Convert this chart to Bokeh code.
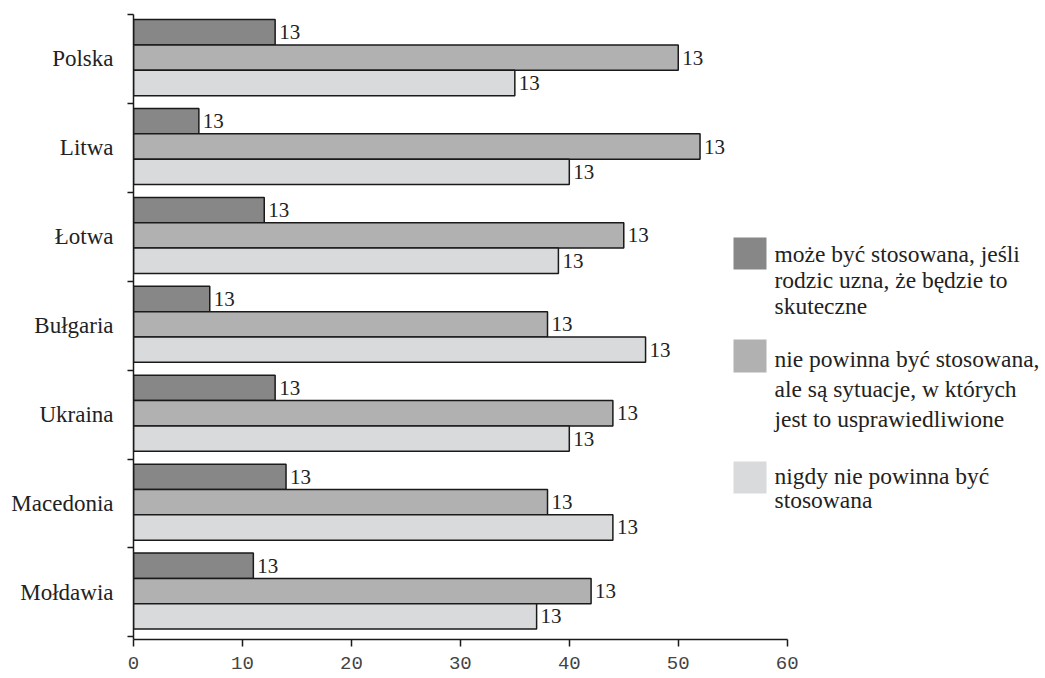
from bokeh.plotting import figure
from bokeh.models import Range1d, FixedTicker, Label, BoxAnnotation, ColumnDataSource
from bokeh.embed import file_html
from bokeh.resources import INLINE
from bokeh.core.properties import value

# ---------------- data ----------------
countries = ["Polska", "Litwa", "Łotwa", "Bułgaria", "Ukraina", "Macedonia", "Mołdawia"]
may_be_used = [13, 6, 12, 7, 13, 14, 11]          # może być stosowana...
should_not_but = [50, 52, 45, 38, 44, 38, 42]     # nie powinna być stosowana, ale...
never_used = [35, 40, 39, 47, 40, 44, 37]         # nigdy nie powinna być stosowana
bar_labels = ["13", "13", "13", "13", "13", "13", "13"]  # labels as printed in the source
series_names = [
    ["może być stosowana, jeśli", "rodzic uzna, że będzie to", "skuteczne"],
    ["nie powinna być stosowana,", "ale są sytuacje, w których", "jest to usprawiedliwione"],
    ["nigdy nie powinna być", "stosowana"],
]
series_colors = ["#878787", "#b1b1b1", "#d9dadc"]
x_ticks = [0, 10, 20, 30, 40, 50, 60]

# ---------------- layout ----------------
W, H = 1045, 678
LEFT, TOP, BOTTOM = 133, 14, 39
PPX = 10.895
X_END = (W - LEFT) / PPX
Y_START, Y_END = -0.03, 7.0
FRAME_H = H - TOP - BOTTOM
PPY = FRAME_H / (Y_END - Y_START)

def dx(px_img):
    return (px_img - LEFT) / PPX

def dy(py_img):
    return Y_END - (py_img - TOP) / PPY

n = len(countries)
centers = [n - 0.5 - i for i in range(n)]
offsets = [0.30, 0.015, -0.27]
bar_h = 0.285

p = figure(width=W, height=H, output_backend="svg", toolbar_location=None,
           x_range=Range1d(0, X_END), y_range=Range1d(Y_START, Y_END),
           min_border_left=LEFT, min_border_right=0, min_border_top=TOP,
           min_border_bottom=BOTTOM)
p.outline_line_color = None
p.xgrid.visible = False
p.ygrid.visible = False
p.background_fill_color = "white"
p.border_fill_color = "white"

for k, vals in enumerate([may_be_used, should_not_but, never_used]):
    src = ColumnDataSource(dict(
        y=[c + offsets[k] for c in centers],
        right=vals,
        lbl=bar_labels,
    ))
    p.hbar(y="y", left=0, right="right", height=bar_h, source=src,
           fill_color=series_colors[k], line_color="#1a1a1a", line_width=1.5)
    p.text(x="right", y="y", text="lbl", source=src, x_offset=4,
           text_baseline="middle", text_align="left",
           text_font=value("Liberation Serif"), text_font_size="21px",
           text_color="#222222")

# y axis: labels at group centres, tick marks at group boundaries
yax = p.yaxis[0]
yax.ticker = FixedTicker(ticks=centers, minor_ticks=list(range(0, n + 1)))
yax.major_label_overrides = {c: countries[i] for i, c in enumerate(centers)}
yax.major_tick_out = 0
yax.major_tick_in = 0
yax.major_tick_line_color = None
yax.minor_tick_out = 6
yax.minor_tick_in = 0
yax.minor_tick_line_color = "#1a1a1a"
yax.minor_tick_line_width = 1.5
yax.axis_line_color = "#1a1a1a"
yax.axis_line_width = 1.5
yax.major_label_standoff = 14
yax.major_label_text_font = "Liberation Serif"
yax.major_label_text_font_size = "23px"
yax.major_label_text_color = "#222222"

xax = p.xaxis[0]
xax.ticker = FixedTicker(ticks=x_ticks)
xax.bounds = (x_ticks[0], x_ticks[-1])
xax.major_tick_out = 7
xax.major_tick_in = 0
xax.minor_tick_line_color = None
xax.major_tick_line_color = "#1a1a1a"
xax.major_tick_line_width = 1.5
xax.axis_line_color = "#1a1a1a"
xax.axis_line_width = 1.5
xax.major_label_standoff = 10
xax.major_label_text_font = "Liberation Mono"
xax.major_label_text_font_size = "19px"
xax.major_label_text_color = "#444444"

# legend (drawn manually, positions in image pixels)
squares = [(733, 766, 237, 269), (733, 766, 339, 372), (733, 766, 461, 493)]
baselines = [[253, 279, 305], [358, 388, 418], [475, 499]]
TEXT_X = 774
for k in range(3):
    l, r, t, b = squares[k]
    p.add_layout(BoxAnnotation(left=dx(l), right=dx(r), top=dy(t), bottom=dy(b),
                               fill_color=series_colors[k], fill_alpha=1.0,
                               line_color=None))
    for line, bl in zip(series_names[k], baselines[k]):
        p.add_layout(Label(x=dx(TEXT_X), y=dy(bl), text=line,
                           text_baseline="alphabetic", text_align="left",
                           text_font="Liberation Serif", text_font_size="23.5px",
                           text_color="#222222"))

open("out.html", "w").write(file_html(p, INLINE))
